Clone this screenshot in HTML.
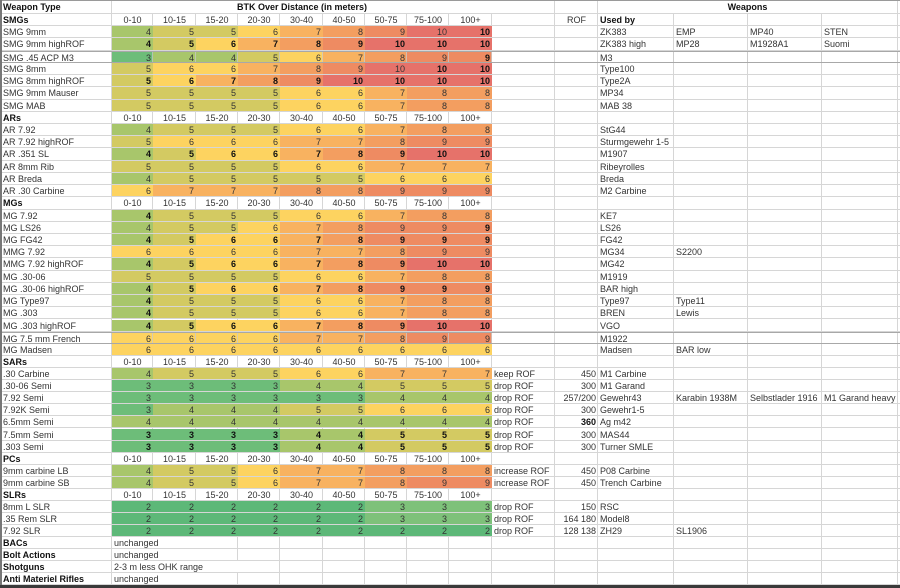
<!DOCTYPE html>
<html><head><meta charset="utf-8">
<style>
body{margin:0;background:#fff}
#s{position:relative;width:900px;height:588px;overflow:hidden;background:#fff;font-family:"Liberation Sans",Arial,sans-serif;font-size:9px;color:#2a2a2a}
.vl{position:absolute;top:0;width:1px;height:585px;background:#d6d6d6}
.r{position:absolute;left:0;width:900px;height:12.22px;box-sizing:border-box;border-bottom:1px solid #d6d6d6}
.s{height:12.04px}
.r i,.r b{position:absolute;top:0;height:100%;box-sizing:border-box;padding:0 2px;line-height:13.5px;white-space:nowrap;font-style:normal;text-align:right;color:#333}
.r b{font-weight:bold;color:#111}
.r .A{left:0;width:112px;text-align:left;padding-left:3px}
.c1{left:112px;width:41px}.c2{left:153px;width:43px}.c3{left:196px;width:42px}.c4{left:238px;width:42px}.c5{left:280px;width:43px}.c6{left:323px;width:42px}.c7{left:365px;width:42px}.c8{left:407px;width:42px}.c9{left:449px;width:43px}
.r .K{left:492px;width:63px;text-align:left}
.L{left:555px;width:43px}
.r .M{left:598px;width:76px;text-align:left}
.r .N{left:674px;width:74px;text-align:left}
.r .O{left:748px;width:74px;text-align:left}
.r .P{left:822px;width:76px;text-align:left}
.hr i{text-align:center!important}
.r .m1{left:112px;width:380px;text-align:center;background:#fff}
.r .m2{left:598px;width:299px;text-align:center;background:#fff}
.r .U{left:112px;width:84px;text-align:left;background:#fff}
.r .U2{left:112px;width:126px;text-align:left;background:#fff}
.v2{background:#5db878}
.v3{background:#6dbd79}
.v3s{background:#7ec17a}
.v4{background:#a8c66b}
.v5{background:#d3ca62}
.v6{background:#fdd360}
.v7{background:#f8b260}
.v8{background:#f39e60}
.v9{background:#ee8b62}
.v10{background:#e6726a}
.bx{border-top:1px solid #a8a8a8;border-bottom:1px solid #a8a8a8}
.bx i,.bx b{box-shadow:inset -1px 0 0 rgba(200,200,200,.75)}
</style></head><body>
<div id="s">
<div class="vl" style="left:111px"></div>
<div class="vl" style="left:152px"></div>
<div class="vl" style="left:195px"></div>
<div class="vl" style="left:237px"></div>
<div class="vl" style="left:279px"></div>
<div class="vl" style="left:322px"></div>
<div class="vl" style="left:364px"></div>
<div class="vl" style="left:406px"></div>
<div class="vl" style="left:448px"></div>
<div class="vl" style="left:491px"></div>
<div class="vl" style="left:554px"></div>
<div class="vl" style="left:597px"></div>
<div class="vl" style="left:673px"></div>
<div class="vl" style="left:747px"></div>
<div class="vl" style="left:821px"></div>
<div class="vl" style="left:897px"></div>

<div class="r" style="top:0;height:14px;border-top:1px solid #9a9a9a"><b class="A">Weapon Type</b><b class="m1">BTK Over Distance (in meters)</b><b class="m2">Weapons</b></div>

<div class="r hr" style="top:14px"><b class="A">SMGs</b><i class="c1">0-10</i><i class="c2">10-15</i><i class="c3">15-20</i><i class="c4">20-30</i><i class="c5">30-40</i><i class="c6">40-50</i><i class="c7">50-75</i><i class="c8">75-100</i><i class="c9">100+</i><i class="L">ROF</i><b class="M" style="text-align:left">Used by</b></div>

<div class="r" style="top:26.22px"><i class="A">SMG 9mm</i><i class="c1 v4">4</i><i class="c2 v5">5</i><i class="c3 v5">5</i><i class="c4 v6">6</i><i class="c5 v7">7</i><i class="c6 v8">8</i><i class="c7 v9">9</i><i class="c8 v10">10</i><b class="c9 v10">10</b><i class="M">ZK383</i><i class="N">EMP</i><i class="O">MP40</i><i class="P">STEN</i></div>

<div class="r" style="top:38.44px"><i class="A">SMG 9mm highROF</i><b class="c1 v4">4</b><b class="c2 v5">5</b><b class="c3 v6">6</b><b class="c4 v7">7</b><b class="c5 v8">8</b><b class="c6 v9">9</b><b class="c7 v10">10</b><b class="c8 v10">10</b><b class="c9 v10">10</b><i class="M">ZK383 high</i><i class="N">MP28</i><i class="O">M1928A1</i><i class="P">Suomi</i></div>

<div class="r bx" style="top:50.66px"><i class="A">SMG .45 ACP M3</i><i class="c1 v3">3</i><i class="c2 v4">4</i><i class="c3 v4">4</i><i class="c4 v5">5</i><i class="c5 v6">6</i><i class="c6 v7">7</i><i class="c7 v8">8</i><i class="c8 v9">9</i><b class="c9 v9">9</b><i class="M">M3</i><i class="N"></i><i class="O"></i><i class="P"></i></div>

<div class="r" style="top:62.88px"><i class="A">SMG 8mm</i><i class="c1 v5">5</i><i class="c2 v6">6</i><i class="c3 v6">6</i><i class="c4 v7">7</i><i class="c5 v8">8</i><i class="c6 v9">9</i><i class="c7 v10">10</i><b class="c8 v10">10</b><b class="c9 v10">10</b><i class="M">Type100</i></div>

<div class="r" style="top:75.1px"><i class="A">SMG 8mm highROF</i><b class="c1 v5">5</b><b class="c2 v6">6</b><b class="c3 v7">7</b><b class="c4 v8">8</b><b class="c5 v9">9</b><b class="c6 v10">10</b><b class="c7 v10">10</b><b class="c8 v10">10</b><b class="c9 v10">10</b><i class="M">Type2A</i></div>

<div class="r" style="top:87.32px"><i class="A">SMG 9mm Mauser</i><i class="c1 v5">5</i><i class="c2 v5">5</i><i class="c3 v5">5</i><i class="c4 v5">5</i><i class="c5 v6">6</i><i class="c6 v6">6</i><i class="c7 v7">7</i><i class="c8 v8">8</i><i class="c9 v8">8</i><i class="M">MP34</i></div>

<div class="r" style="top:99.54px"><i class="A">SMG MAB</i><i class="c1 v5">5</i><i class="c2 v5">5</i><i class="c3 v5">5</i><i class="c4 v5">5</i><i class="c5 v6">6</i><i class="c6 v6">6</i><i class="c7 v7">7</i><i class="c8 v8">8</i><i class="c9 v8">8</i><i class="M">MAB 38</i></div>

<div class="r hr" style="top:111.76px"><b class="A">ARs</b><i class="c1">0-10</i><i class="c2">10-15</i><i class="c3">15-20</i><i class="c4">20-30</i><i class="c5">30-40</i><i class="c6">40-50</i><i class="c7">50-75</i><i class="c8">75-100</i><i class="c9">100+</i></div>

<div class="r" style="top:123.98px"><i class="A">AR 7.92</i><i class="c1 v4">4</i><i class="c2 v5">5</i><i class="c3 v5">5</i><i class="c4 v5">5</i><i class="c5 v6">6</i><i class="c6 v6">6</i><i class="c7 v7">7</i><i class="c8 v8">8</i><i class="c9 v8">8</i><i class="M">StG44</i></div>

<div class="r" style="top:136.2px"><i class="A">AR 7.92 highROF</i><i class="c1 v5">5</i><i class="c2 v6">6</i><i class="c3 v6">6</i><i class="c4 v6">6</i><i class="c5 v7">7</i><i class="c6 v7">7</i><i class="c7 v8">8</i><i class="c8 v9">9</i><i class="c9 v9">9</i><i class="M">Sturmgewehr 1-5</i></div>

<div class="r" style="top:148.42px"><i class="A">AR .351 SL</i><b class="c1 v4">4</b><b class="c2 v5">5</b><b class="c3 v6">6</b><b class="c4 v6">6</b><b class="c5 v7">7</b><b class="c6 v8">8</b><b class="c7 v9">9</b><b class="c8 v10">10</b><b class="c9 v10">10</b><i class="M">M1907</i></div>

<div class="r" style="top:160.64px"><i class="A">AR 8mm Rib</i><i class="c1 v5">5</i><i class="c2 v5">5</i><i class="c3 v5">5</i><i class="c4 v5">5</i><i class="c5 v6">6</i><i class="c6 v6">6</i><i class="c7 v7">7</i><i class="c8 v7">7</i><i class="c9 v7">7</i><i class="M">Ribeyrolles</i></div>

<div class="r" style="top:172.86px"><i class="A">AR Breda</i><i class="c1 v4">4</i><i class="c2 v5">5</i><i class="c3 v5">5</i><i class="c4 v5">5</i><i class="c5 v5">5</i><i class="c6 v5">5</i><i class="c7 v6">6</i><i class="c8 v6">6</i><i class="c9 v6">6</i><i class="M">Breda</i></div>

<div class="r" style="top:185.08px"><i class="A">AR .30 Carbine</i><i class="c1 v6">6</i><i class="c2 v7">7</i><i class="c3 v7">7</i><i class="c4 v7">7</i><i class="c5 v8">8</i><i class="c6 v8">8</i><i class="c7 v9">9</i><i class="c8 v9">9</i><i class="c9 v9">9</i><i class="M">M2 Carbine</i></div>

<div class="r hr" style="top:197.3px"><b class="A">MGs</b><i class="c1">0-10</i><i class="c2">10-15</i><i class="c3">15-20</i><i class="c4">20-30</i><i class="c5">30-40</i><i class="c6">40-50</i><i class="c7">50-75</i><i class="c8">75-100</i><i class="c9">100+</i></div>

<div class="r" style="top:209.52px"><i class="A">MG 7.92</i><b class="c1 v4">4</b><i class="c2 v5">5</i><i class="c3 v5">5</i><i class="c4 v5">5</i><i class="c5 v6">6</i><i class="c6 v6">6</i><i class="c7 v7">7</i><i class="c8 v8">8</i><i class="c9 v8">8</i><i class="M">KE7</i></div>

<div class="r" style="top:221.74px"><i class="A">MG LS26</i><i class="c1 v4">4</i><i class="c2 v5">5</i><i class="c3 v5">5</i><i class="c4 v6">6</i><i class="c5 v7">7</i><i class="c6 v8">8</i><i class="c7 v9">9</i><i class="c8 v9">9</i><b class="c9 v9">9</b><i class="M">LS26</i></div>

<div class="r" style="top:233.96px"><i class="A">MG FG42</i><b class="c1 v4">4</b><b class="c2 v5">5</b><b class="c3 v6">6</b><b class="c4 v6">6</b><b class="c5 v7">7</b><b class="c6 v8">8</b><b class="c7 v9">9</b><b class="c8 v9">9</b><b class="c9 v9">9</b><i class="M">FG42</i></div>

<div class="r" style="top:246.18px"><i class="A">MMG 7.92</i><i class="c1 v6">6</i><i class="c2 v6">6</i><i class="c3 v6">6</i><i class="c4 v6">6</i><i class="c5 v7">7</i><i class="c6 v7">7</i><i class="c7 v8">8</i><i class="c8 v9">9</i><i class="c9 v9">9</i><i class="M">MG34</i><i class="N">S2200</i></div>

<div class="r" style="top:258.4px"><i class="A">MMG 7.92 highROF</i><b class="c1 v4">4</b><b class="c2 v5">5</b><b class="c3 v6">6</b><b class="c4 v6">6</b><b class="c5 v7">7</b><b class="c6 v8">8</b><b class="c7 v9">9</b><b class="c8 v10">10</b><b class="c9 v10">10</b><i class="M">MG42</i></div>

<div class="r" style="top:270.62px"><i class="A">MG .30-06</i><i class="c1 v5">5</i><i class="c2 v5">5</i><i class="c3 v5">5</i><i class="c4 v5">5</i><i class="c5 v6">6</i><i class="c6 v6">6</i><i class="c7 v7">7</i><i class="c8 v8">8</i><i class="c9 v8">8</i><i class="M">M1919</i></div>

<div class="r" style="top:282.84px"><i class="A">MG .30-06 highROF</i><b class="c1 v4">4</b><b class="c2 v5">5</b><b class="c3 v6">6</b><b class="c4 v6">6</b><b class="c5 v7">7</b><b class="c6 v8">8</b><b class="c7 v9">9</b><b class="c8 v9">9</b><b class="c9 v9">9</b><i class="M">BAR high</i></div>

<div class="r" style="top:295.06px"><i class="A">MG Type97</i><b class="c1 v4">4</b><i class="c2 v5">5</i><i class="c3 v5">5</i><i class="c4 v5">5</i><i class="c5 v6">6</i><i class="c6 v6">6</i><i class="c7 v7">7</i><i class="c8 v8">8</i><i class="c9 v8">8</i><i class="M">Type97</i><i class="N">Type11</i></div>

<div class="r" style="top:307.28px"><i class="A">MG .303</i><b class="c1 v4">4</b><i class="c2 v5">5</i><i class="c3 v5">5</i><i class="c4 v5">5</i><i class="c5 v6">6</i><i class="c6 v6">6</i><i class="c7 v7">7</i><i class="c8 v8">8</i><i class="c9 v8">8</i><i class="M">BREN</i><i class="N">Lewis</i></div>

<div class="r" style="top:319.5px"><i class="A">MG .303 highROF</i><b class="c1 v4">4</b><b class="c2 v5">5</b><b class="c3 v6">6</b><b class="c4 v6">6</b><b class="c5 v7">7</b><b class="c6 v8">8</b><b class="c7 v9">9</b><b class="c8 v10">10</b><b class="c9 v10">10</b><i class="M">VGO</i></div>

<div class="r bx" style="top:331.72px"><i class="A">MG 7.5 mm French</i><i class="c1 v6">6</i><i class="c2 v6">6</i><i class="c3 v6">6</i><i class="c4 v6">6</i><i class="c5 v7">7</i><i class="c6 v7">7</i><i class="c7 v8">8</i><i class="c8 v9">9</i><i class="c9 v9">9</i><i class="M">M1922</i></div>

<div class="r" style="top:343.94px"><i class="A">MG Madsen</i><i class="c1 v6">6</i><i class="c2 v6">6</i><i class="c3 v6">6</i><i class="c4 v6">6</i><i class="c5 v6">6</i><i class="c6 v6">6</i><i class="c7 v6">6</i><i class="c8 v6">6</i><i class="c9 v6">6</i><i class="M">Madsen</i><i class="N">BAR low</i></div>

<div class="r hr" style="top:356.16px"><b class="A">SARs</b><i class="c1">0-10</i><i class="c2">10-15</i><i class="c3">15-20</i><i class="c4">20-30</i><i class="c5">30-40</i><i class="c6">40-50</i><i class="c7">50-75</i><i class="c8">75-100</i><i class="c9">100+</i></div>

<div class="r s" style="top:368.3px"><i class="A">.30 Carbine</i><i class="c1 v4">4</i><i class="c2 v5">5</i><i class="c3 v5">5</i><i class="c4 v5">5</i><i class="c5 v6">6</i><i class="c6 v6">6</i><i class="c7 v7">7</i><i class="c8 v7">7</i><i class="c9 v7">7</i><i class="K">keep ROF</i><i class="L">450</i><i class="M">M1 Carbine</i></div>

<div class="r s" style="top:380.34px"><i class="A">.30-06 Semi</i><i class="c1 v3">3</i><i class="c2 v3">3</i><i class="c3 v3">3</i><i class="c4 v3">3</i><i class="c5 v4">4</i><i class="c6 v4">4</i><i class="c7 v5">5</i><i class="c8 v5">5</i><i class="c9 v5">5</i><i class="K">drop ROF</i><i class="L">300</i><i class="M">M1 Garand</i></div>

<div class="r s" style="top:392.38px"><i class="A">7.92 Semi</i><i class="c1 v3">3</i><i class="c2 v3">3</i><i class="c3 v3">3</i><i class="c4 v3">3</i><i class="c5 v3">3</i><i class="c6 v3">3</i><i class="c7 v4">4</i><i class="c8 v4">4</i><i class="c9 v4">4</i><i class="K">drop ROF</i><i class="L">257/200</i><i class="M">Gewehr43</i><i class="N">Karabin 1938M</i><i class="O">Selbstlader 1916</i><i class="P">M1 Garand heavy</i></div>

<div class="r s" style="top:404.42px"><i class="A">7.92K Semi</i><i class="c1 v3">3</i><i class="c2 v4">4</i><i class="c3 v4">4</i><i class="c4 v4">4</i><i class="c5 v5">5</i><i class="c6 v5">5</i><i class="c7 v6">6</i><i class="c8 v6">6</i><i class="c9 v6">6</i><i class="K">drop ROF</i><i class="L">300</i><i class="M">Gewehr1-5</i></div>

<div class="r s" style="top:416.46px"><i class="A">6.5mm Semi</i><i class="c1 v4">4</i><i class="c2 v4">4</i><i class="c3 v4">4</i><i class="c4 v4">4</i><i class="c5 v4">4</i><i class="c6 v4">4</i><i class="c7 v4">4</i><i class="c8 v4">4</i><i class="c9 v4">4</i><i class="K">drop ROF</i><b class="L">360</b><i class="M">Ag m42</i></div>

<div class="r s" style="top:428.5px"><i class="A">7.5mm Semi</i><b class="c1 v3">3</b><b class="c2 v3">3</b><b class="c3 v3">3</b><b class="c4 v3">3</b><b class="c5 v4">4</b><b class="c6 v4">4</b><b class="c7 v5">5</b><b class="c8 v5">5</b><b class="c9 v5">5</b><i class="K">drop ROF</i><i class="L">300</i><i class="M">MAS44</i></div>

<div class="r s" style="top:440.54px"><i class="A">.303 Semi</i><b class="c1 v3">3</b><b class="c2 v3">3</b><b class="c3 v3">3</b><b class="c4 v3">3</b><b class="c5 v4">4</b><b class="c6 v4">4</b><b class="c7 v5">5</b><b class="c8 v5">5</b><b class="c9 v5">5</b><i class="K">drop ROF</i><i class="L">300</i><i class="M">Turner SMLE</i></div>

<div class="r s hr" style="top:452.58px"><b class="A">PCs</b><i class="c1">0-10</i><i class="c2">10-15</i><i class="c3">15-20</i><i class="c4">20-30</i><i class="c5">30-40</i><i class="c6">40-50</i><i class="c7">50-75</i><i class="c8">75-100</i><i class="c9">100+</i></div>

<div class="r s" style="top:464.62px"><i class="A">9mm carbine LB</i><i class="c1 v4">4</i><i class="c2 v5">5</i><i class="c3 v5">5</i><i class="c4 v6">6</i><i class="c5 v7">7</i><i class="c6 v7">7</i><i class="c7 v8">8</i><i class="c8 v8">8</i><i class="c9 v8">8</i><i class="K">increase ROF</i><i class="L">450</i><i class="M">P08 Carbine</i></div>

<div class="r s" style="top:476.66px"><i class="A">9mm carbine SB</i><i class="c1 v4">4</i><i class="c2 v5">5</i><i class="c3 v5">5</i><i class="c4 v6">6</i><i class="c5 v7">7</i><i class="c6 v7">7</i><i class="c7 v8">8</i><i class="c8 v9">9</i><i class="c9 v9">9</i><i class="K">increase ROF</i><i class="L">450</i><i class="M">Trench Carbine</i></div>

<div class="r s hr" style="top:488.7px"><b class="A">SLRs</b><i class="c1">0-10</i><i class="c2">10-15</i><i class="c3">15-20</i><i class="c4">20-30</i><i class="c5">30-40</i><i class="c6">40-50</i><i class="c7">50-75</i><i class="c8">75-100</i><i class="c9">100+</i></div>

<div class="r s" style="top:500.74px"><i class="A">8mm L SLR</i><i class="c1 v2">2</i><i class="c2 v2">2</i><i class="c3 v2">2</i><i class="c4 v2">2</i><i class="c5 v2">2</i><i class="c6 v2">2</i><i class="c7 v3s">3</i><i class="c8 v3s">3</i><i class="c9 v3s">3</i><i class="K">drop ROF</i><i class="L">150</i><i class="M">RSC</i></div>

<div class="r s" style="top:512.78px"><i class="A">.35 Rem SLR</i><i class="c1 v2">2</i><i class="c2 v2">2</i><i class="c3 v2">2</i><i class="c4 v2">2</i><i class="c5 v2">2</i><i class="c6 v2">2</i><i class="c7 v3s">3</i><i class="c8 v3s">3</i><i class="c9 v3s">3</i><i class="K">drop ROF</i><i class="L">164 180</i><i class="M">Model8</i></div>

<div class="r s" style="top:524.82px"><i class="A">7.92 SLR</i><i class="c1 v2">2</i><i class="c2 v2">2</i><i class="c3 v2">2</i><i class="c4 v2">2</i><i class="c5 v2">2</i><i class="c6 v2">2</i><i class="c7 v2">2</i><i class="c8 v2">2</i><i class="c9 v2">2</i><i class="K">drop ROF</i><i class="L">128 138</i><i class="M">ZH29</i><i class="N">SL1906</i></div>

<div class="r s" style="top:536.86px"><b class="A">BACs</b><i class="U">unchanged</i></div>
<div class="r s" style="top:548.9px"><b class="A">Bolt Actions</b><i class="U">unchanged</i></div>
<div class="r s" style="top:560.94px"><b class="A">Shotguns</b><i class="U2">2-3 m less OHK range</i></div>
<div class="r s" style="top:572.98px"><b class="A">Anti Materiel Rifles</b><i class="U">unchanged</i></div>

<div style="position:absolute;left:0;top:0;width:1.5px;height:588px;background:#777"></div>
<div style="position:absolute;left:0;top:585px;width:900px;height:3px;background:#3a3a3a"></div>
</div>
</body></html>
